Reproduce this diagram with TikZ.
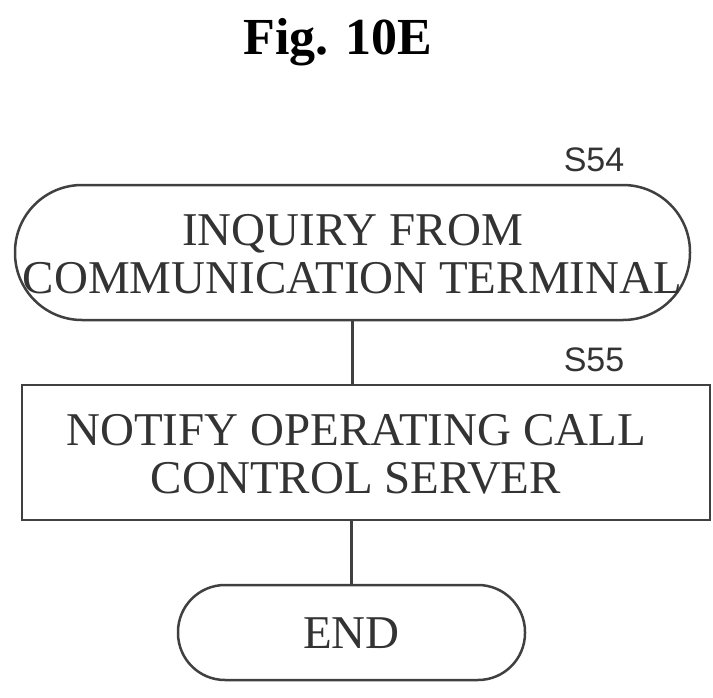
\documentclass[tikz,border=0pt]{standalone}
\usepackage{fontspec}
\setmainfont{Liberation Serif}
\newfontfamily\lab{Liberation Sans}
\begin{document}
\begin{tikzpicture}[x=1pt,y=-1pt,
  ln/.style={line width=2.5pt,draw=black!75},
  txt/.style={font=\fontsize{47}{48}\selectfont,align=center,text=black!80},
  lb/.style={font=\lab\fontsize{34}{38}\selectfont,text=black!80}]
\useasboundingbox (0,0) rectangle (713,697);
\node[font=\bfseries\fontsize{52}{58}\selectfont] (title) at (338,42) {Fig. 10E};
\node[ln,rounded corners=67pt,minimum width=675pt,minimum height=135pt,inner sep=0pt] (s54) at (352.5,252.5) {};
\node[txt] (t54) at (352.5,254) {INQUIRY FROM\\COMMUNICATION TERMINAL};
\node[lb] (l54) at (594,160) {S54};
\node[ln,minimum width=688pt,minimum height=135pt,inner sep=0pt] (s55) at (366,452.5) {};
\node[txt] (t55) at (356,454) {NOTIFY OPERATING CALL\\CONTROL SERVER};
\node[lb] (l55) at (594,360) {S55};
\node[ln,rounded corners=47pt,minimum width=347pt,minimum height=95pt,inner sep=0pt] (end) at (351.5,632.5) {};
\node[txt] (tend) at (351.5,633) {END};
\draw[ln] (s54.south) -- (s55.north -| s54.south);
\draw[ln] (s55.south -| end.north) -- (end.north);
\end{tikzpicture}
\end{document}
